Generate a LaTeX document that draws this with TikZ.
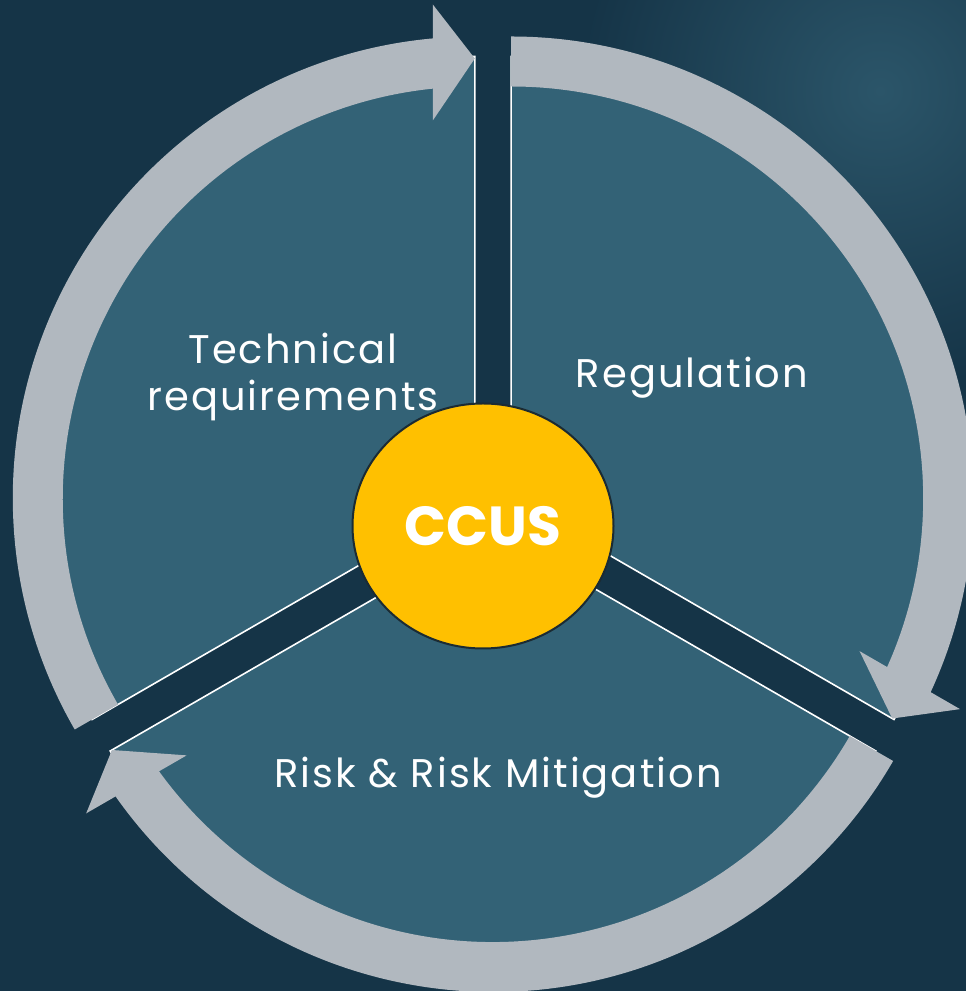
\documentclass[tikz,border=0pt]{standalone}
\usepackage{fontspec}
\newfontfamily\labelfont[LetterSpace=5]{Poppins}
\newfontfamily\hubfont{Poppins}
\usetikzlibrary{calc,shapes.geometric}

\definecolor{oceanbg}{HTML}{153447}
\definecolor{oceanfoam}{HTML}{2B5569}
\definecolor{segfill}{HTML}{336276}
\definecolor{ringgray}{HTML}{B1B8BF}
\definecolor{hubyellow}{HTML}{FFC000}
\definecolor{hubline}{HTML}{1B2B33}

\tikzset{
  segment/.style={fill=segfill, draw=white, line width=1.6pt, line join=miter},
  ringarrow/.style={fill=ringgray},
  seglabel/.style={text=white, align=center, inner sep=0pt,
    font=\labelfont\fontsize{40}{47}\selectfont},
  hub/.style={ellipse, fill=hubyellow, draw=hubline, line width=2pt,
    minimum width=261pt, minimum height=245pt, inner sep=0pt, text=white,
    font=\hubfont\bfseries\fontsize{55}{62}\selectfont},
}

% one exploded pie segment with its clockwise ring arrow
% #1 segment apex, #2 start angle, #3 end angle (arrow tip)
\newcommand{\cycseg}[3]{%
  \begin{scope}[shift={#1}]
    \path[segment] (0,0) -- (#2:442) arc[start angle=#2, end angle=#3, radius=442] -- cycle;
    \fill[ringarrow] (#2:412) arc[start angle=#2, end angle=#3+4, radius=412]
      -- (#3+4:462) arc[start angle=#3+4, end angle=#2, radius=462] -- cycle;
    \fill[ringarrow] (#3:440) -- ([shift={(#3+90:42)}]#3:378)
      -- ([shift={(#3+90:42)}]#3:494) -- cycle;
  \end{scope}}

\begin{document}
\begin{tikzpicture}[x=1pt, y=1pt]
  \clip (0,0) rectangle (966,991);
  \fill[oceanbg] (0,0) rectangle (966,991);
  \shade[inner color=oceanfoam, outer color=oceanbg] (880,900) circle (300);

  % apex of the three-way split
  \coordinate (apex) at (493,482);
  \coordinate (ctech) at ($(apex)+(150:21)$);
  \coordinate (creg)  at ($(apex)+(30:21)$);
  \coordinate (crisk) at ($(apex)+(270:21)$);

  \cycseg{(ctech)}{210}{90}
  \cycseg{(creg)}{90}{-30}
  \cycseg{(crisk)}{-30}{-150}

  \node[seglabel] (tech) at (293,614) {Technical\\requirements};
  \node[seglabel] (reg)  at (692,613) {Regulation};
  \node[seglabel] (risk) at (498,213) {Risk \& Risk Mitigation};

  \node[hub] (hub) at (483,465) {CCUS};
\end{tikzpicture}
\end{document}
